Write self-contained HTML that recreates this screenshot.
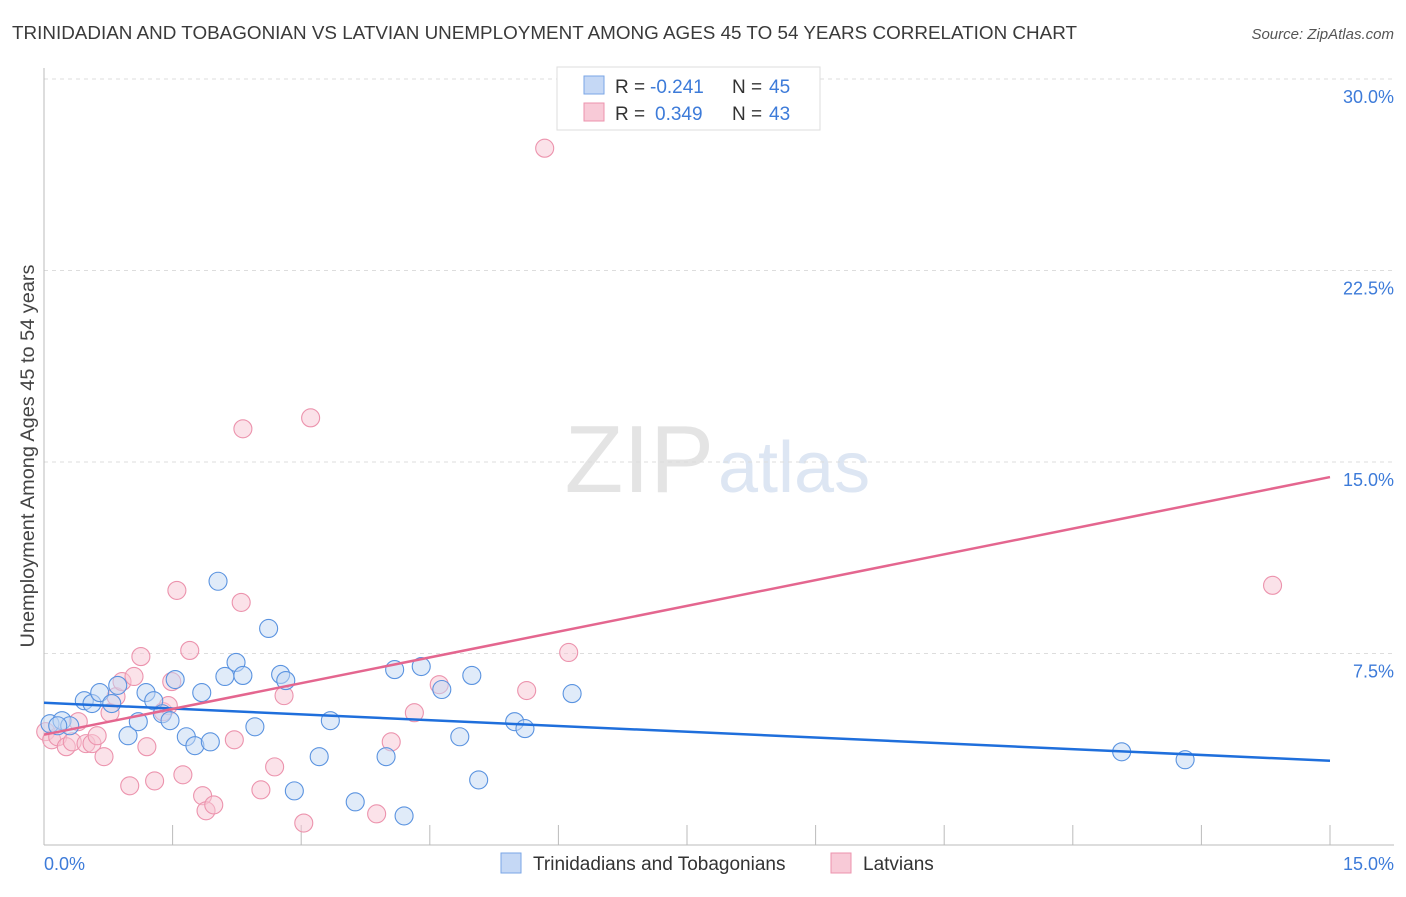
<!DOCTYPE html>
<html><head><meta charset="utf-8"><style>
body{margin:0;background:#fff;font-family:"Liberation Sans",sans-serif;}
svg text{font-family:"Liberation Sans",sans-serif;}
</style></head><body>
<svg id="chart" width="1406" height="892">
<text x="12" y="39" font-size="18" fill="#3a3a3a" textLength="1065" lengthAdjust="spacingAndGlyphs">TRINIDADIAN AND TOBAGONIAN VS LATVIAN UNEMPLOYMENT AMONG AGES 45 TO 54 YEARS CORRELATION CHART</text>
<text x="1394" y="39" font-size="15" fill="#555" text-anchor="end" font-style="italic">Source: ZipAtlas.com</text>
<text x="714" y="492" font-size="96" fill="#e4e4e4" text-anchor="end" font-family="Liberation Serif">ZIP</text>
<text x="718" y="492" font-size="72" fill="#dde6f3">atlas</text>
<g id="grid"></g><g id="axes"></g><g id="pts"></g><g id="lines"></g>
<text transform="translate(34,456) rotate(-90)" font-size="19" fill="#444" text-anchor="middle" textLength="383" lengthAdjust="spacingAndGlyphs">Unemployment Among Ages 45 to 54 years</text>
<text x="44" y="870" font-size="18" fill="#3d7bd9">0.0%</text>
<text x="1394" y="870" font-size="18" fill="#3d7bd9" text-anchor="end">15.0%</text>
<g>
<rect x="557" y="67" width="263" height="63" fill="#fff" stroke="#ddd"/>
<rect x="584" y="76" width="20" height="18" fill="#c5d8f5" stroke="#7aa6e6"/>
<rect x="584" y="103" width="20" height="18" fill="#f8cad7" stroke="#ec93ad"/>
<text x="615" y="93" font-size="19" fill="#333">R =</text>
<text x="650" y="93" font-size="19" fill="#3d7bd9">-0.241</text>
<text x="732" y="93" font-size="19" fill="#333">N =</text>
<text x="769" y="93" font-size="19" fill="#3d7bd9">45</text>
<text x="615" y="120" font-size="19" fill="#333">R =</text>
<text x="655" y="120" font-size="19" fill="#3d7bd9">0.349</text>
<text x="732" y="120" font-size="19" fill="#333">N =</text>
<text x="769" y="120" font-size="19" fill="#3d7bd9">43</text>
</g>
<g>
<rect x="501" y="853" width="20" height="20" fill="#c5d8f5" stroke="#7aa6e6"/>
<text x="533" y="870" font-size="19" fill="#333">Trinidadians and Tobagonians</text>
<rect x="831" y="853" width="20" height="20" fill="#f8cad7" stroke="#ec93ad"/>
<text x="863" y="870" font-size="19" fill="#333">Latvians</text>
</g>
</svg>
<script>
const yTicks=[7.5,15,22.5,30];
const yTickLabels=["7.5%","15.0%","22.5%","30.0%"];
const xTicks=[0,1.5,3,4.5,6,7.5,9,10.5,12,13.5,15];
const blueX=[0.07,0.21,0.30,0.47,0.56,0.65,0.79,0.86,0.98,1.10,1.19,1.28,1.38,1.47,1.53,1.66,1.76,1.84,1.94,2.03,2.11,2.24,2.32,2.46,2.62,2.76,2.82,2.92,3.21,3.34,3.63,3.99,4.09,4.20,4.40,4.64,4.85,4.99,5.07,5.49,5.61,6.16,12.57,13.31,0.16];
const blueY=[4.75,4.87,4.67,5.65,5.54,5.97,5.54,6.25,4.28,4.83,5.97,5.65,5.14,4.87,6.48,4.24,3.89,5.97,4.04,10.33,6.60,7.15,6.64,4.63,8.48,6.68,6.44,2.12,3.46,4.87,1.69,3.46,6.87,1.14,6.99,6.09,4.24,6.64,2.55,4.83,4.56,5.93,3.65,3.34,4.67];
const pinkX=[0.02,0.09,0.16,0.26,0.33,0.40,0.49,0.56,0.62,0.70,0.77,0.84,0.91,1.00,1.05,1.13,1.20,1.29,1.39,1.45,1.49,1.55,1.62,1.70,1.85,1.89,1.98,2.22,2.32,2.30,2.53,2.69,2.80,3.03,3.11,3.88,4.05,4.32,4.61,5.63,5.84,6.12,14.33];
const pinkY=[4.44,4.12,4.24,3.85,4.04,4.83,3.97,3.97,4.28,3.46,5.18,5.81,6.40,2.32,6.60,7.38,3.85,2.51,5.22,5.46,6.40,9.97,2.75,7.62,1.93,1.34,1.57,4.12,16.30,9.50,2.16,3.06,5.85,0.86,16.73,1.22,4.04,5.18,6.28,6.05,27.29,7.54,10.17];
const trendBlue=[5.57,3.30], trendPink=[4.32,14.41];
const X0=44,X1=1330,Y0=845,Y30=79;
const sx=v=>X0+(X1-X0)*v/15, sy=v=>Y0-(Y0-Y30)*v/30;
const NS="http://www.w3.org/2000/svg";
function mk(t,a,p){const e=document.createElementNS(NS,t);for(const k in a)e.setAttribute(k,a[k]);p.appendChild(e);return e;}
const grid=document.getElementById('grid'),axes=document.getElementById('axes'),pts=document.getElementById('pts'),lines=document.getElementById('lines');
yTicks.forEach((v,i)=>{
 const l=mk('line',{x1:X0,x2:1394,y1:sy(v),y2:sy(v),stroke:'#ddd','stroke-dasharray':'4,4'},grid);
 
 
 const t=mk('text',{x:1394,y:sy(v)+24,'font-size':18,fill:'#3d7bd9','text-anchor':'end'},grid);t.textContent=yTickLabels[i];
 
 
});
const ya=mk('line',{x1:X0,x2:X0,y1:68,y2:Y0,stroke:'#bbb'},axes);


const xa=mk('line',{x1:X0,x2:1394,y1:Y0,y2:Y0,stroke:'#bbb'},axes);


xTicks.forEach(v=>{
 const t=mk('line',{x1:sx(v),x2:sx(v),y1:Y0-20,y2:Y0,stroke:'#bbb'},axes);
 
 
});
function dots(xs,ys,fill,stroke,name){xs.forEach((x,i)=>{
 const c=mk('circle',{cx:sx(x),cy:sy(ys[i]),r:9,fill:fill,'fill-opacity':0.5,stroke:stroke,'stroke-width':1.1},pts);
 
 
});}
dots(pinkX,pinkY,'#f8c6d4','#ec93ad','latvian-point');
dots(blueX,blueY,'#c2d7f3','#5a93e0','trinidadian-point');
const lb=mk('line',{x1:sx(0),y1:sy(trendBlue[0]),x2:sx(15),y2:sy(trendBlue[1]),stroke:'#1f6fdc','stroke-width':2.5},lines);


const lp=mk('line',{x1:sx(0),y1:sy(trendPink[0]),x2:sx(15),y2:sy(trendPink[1]),stroke:'#e4668f','stroke-width':2.5},lines);


</script>
</body></html>
